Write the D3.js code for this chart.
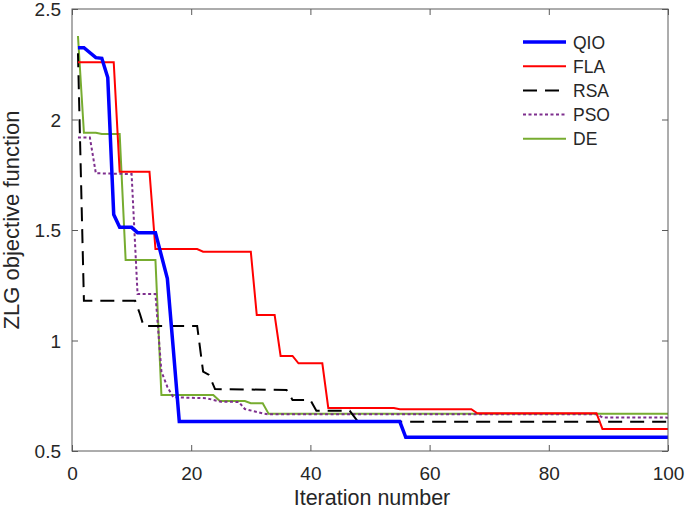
<!DOCTYPE html>
<html>
<head>
<meta charset="utf-8">
<script src="https://cdn.jsdelivr.net/npm/d3@7"></script>
<style>
body { margin: 0; background: #fff; }
text { font-family: "Liberation Sans", Arial, sans-serif; fill: #262626; }
</style>
</head>
<body>
<svg width="685" height="511"></svg>
<script>
// values, iteration -> objective (breakpoints of each curve)
const qioIter = [1, 2, 4, 5, 6, 7, 8, 10, 11, 14, 16, 17, 18, 55, 56, 100];
const qioVal = [2.325, 2.325, 2.28, 2.277, 2.19, 1.57, 1.512, 1.512, 1.488, 1.488, 1.28, 0.96, 0.633, 0.633, 0.562, 0.562];

const flaIter = [1, 7, 8, 13, 14, 21, 22, 30, 31, 34, 35, 37, 38, 42, 43, 54, 55, 67, 68, 88, 89, 100];
const flaVal = [2.259, 2.259, 1.764, 1.764, 1.414, 1.414, 1.402, 1.402, 1.115, 1.115, 0.93, 0.93, 0.897, 0.897, 0.695, 0.695, 0.689, 0.689, 0.671, 0.671, 0.6, 0.6];

const rsaIter = [1, 2, 10.6, 11.4, 12, 21, 22, 23, 24, 36, 37, 40, 41, 46.6, 48, 100];
const rsaVal = [2.3, 1.18, 1.18, 1.12, 1.066, 1.066, 0.859, 0.844, 0.78, 0.776, 0.731, 0.731, 0.682, 0.682, 0.632, 0.632];

const psoIter = [1, 3, 4, 10, 11, 14, 15, 16, 17, 22.5, 25, 28, 29, 32, 33, 88, 89, 100];
const psoVal = [1.918, 1.918, 1.757, 1.753, 1.21, 1.21, 0.86, 0.79, 0.743, 0.739, 0.723, 0.722, 0.69, 0.67, 0.666, 0.666, 0.652, 0.651];

const deIter = [1, 2, 4, 5, 8, 9, 14, 15, 23.7, 24.8, 29, 30, 32, 33, 100];
const deVal = [2.378, 1.94, 1.94, 1.934, 1.934, 1.364, 1.364, 0.753, 0.753, 0.726, 0.726, 0.716, 0.716, 0.668, 0.668];

const xTicks = [0, 20, 40, 60, 80, 100];
const yTicks = [0.5, 1, 1.5, 2, 2.5];

const series = [
  { name: "QIO", iter: qioIter, val: qioVal, color: "#0000ff", width: 3.5, dash: null },
  { name: "FLA", iter: flaIter, val: flaVal, color: "#ff0000", width: 2, dash: null },
  { name: "RSA", iter: rsaIter, val: rsaVal, color: "#000000", width: 2, dash: "14,8" },
  { name: "PSO", iter: psoIter, val: psoVal, color: "#7e2f8e", width: 2, dash: "3,2.5" },
  { name: "DE", iter: deIter, val: deVal, color: "#77ac30", width: 2, dash: null }
];

const svg = d3.select("svg");
const mLeft = 72, mRight = 668, mTop = 9, mBottom = 451;

const x = d3.scaleLinear().domain([0, 100]).range([mLeft, mRight]);
const y = d3.scaleLinear().domain([0.5, 2.5]).range([mBottom, mTop]);

// curves
const line = d3.line().x(d => x(d[0])).y(d => y(d[1]));
const order = [4, 3, 2, 1, 0];
order.forEach(function(i) {
  const s = series[i];
  svg.append("path")
    .datum(d3.zip(s.iter, s.val))
    .attr("d", line)
    .attr("fill", "none")
    .attr("stroke", s.color)
    .attr("stroke-width", s.width)
    .attr("stroke-dasharray", s.dash)
    .attr("stroke-linejoin", "miter");
});

// axes, ticks inside, box on
const axisColor = "#5a5a5a";
function styleAxis(g) {
  g.select(".domain").remove();
  g.selectAll(".tick line").attr("stroke", axisColor);
  g.selectAll(".tick text").attr("font-size", 19).attr("fill", "#262626")
    .attr("font-family", "Liberation Sans, Arial, sans-serif");
}

svg.append("g")
  .attr("transform", "translate(0," + mBottom + ")")
  .call(d3.axisBottom(x).tickValues(xTicks).tickSize(-6).tickPadding(16).tickFormat(d3.format("d")))
  .call(styleAxis);

svg.append("g")
  .attr("transform", "translate(0," + mTop + ")")
  .call(d3.axisTop(x).tickValues(xTicks).tickSize(-6).tickFormat(""))
  .call(styleAxis);

svg.append("g")
  .attr("transform", "translate(" + mLeft + ",0)")
  .call(d3.axisLeft(y).tickValues(yTicks).tickSize(-6).tickPadding(11).tickFormat(d => d3.format("")(d)))
  .call(styleAxis)
  .selectAll(".tick text").attr("dy", "0.36em");

svg.append("g")
  .attr("transform", "translate(" + mRight + ",0)")
  .call(d3.axisRight(y).tickValues(yTicks).tickSize(-6).tickFormat(""))
  .call(styleAxis);

svg.append("rect")
  .attr("x", mLeft).attr("y", mTop)
  .attr("width", mRight - mLeft).attr("height", mBottom - mTop)
  .attr("fill", "none").attr("stroke", axisColor).attr("stroke-width", 1);

// axis labels
svg.append("text")
  .attr("x", 372).attr("y", 505)
  .attr("text-anchor", "middle").attr("font-size", 21.5)
  .text("Iteration number");

svg.append("text")
  .attr("transform", "translate(19,220) rotate(-90)")
  .attr("text-anchor", "middle").attr("font-size", 22)
  .text("ZLG objective function");

// legend
const legend = svg.append("g");
series.forEach(function(s, i) {
  const ly = 42 + i * 24.2;
  legend.append("line")
    .attr("x1", 523).attr("x2", 566).attr("y1", ly).attr("y2", ly)
    .attr("stroke", s.color).attr("stroke-width", s.width)
    .attr("stroke-dasharray", s.dash);
  legend.append("text")
    .attr("x", 573).attr("y", ly + 6.5)
    .attr("font-size", 17.5)
    .text(s.name);
});
</script>
</body>
</html>
